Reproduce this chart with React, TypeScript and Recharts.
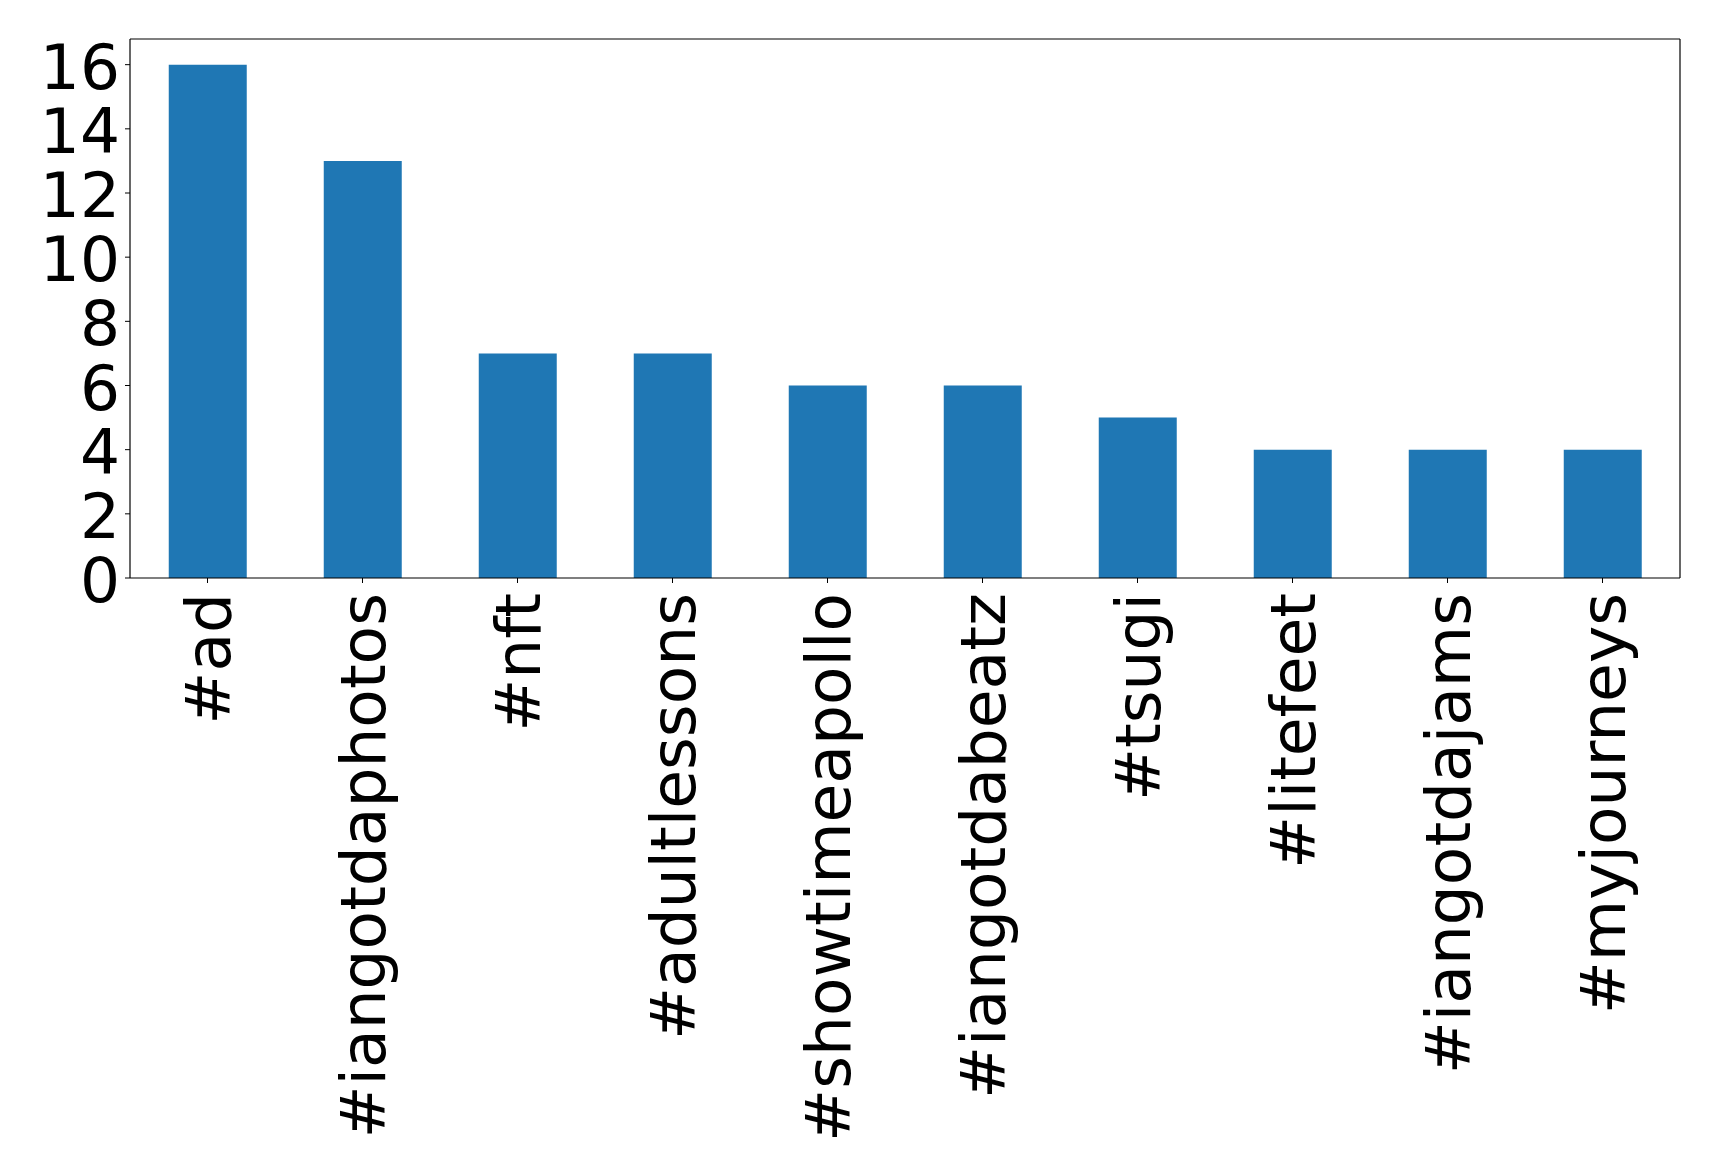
import { BarChart, Bar, XAxis, YAxis } from "recharts";

const TAGS = [
  "#ad", "#iangotdaphotos", "#nft", "#adultlessons", "#showtimeapollo",
  "#iangotdabeatz", "#tsugi", "#litefeet", "#iangotdajams", "#myjourneys",
];
const COUNTS = [16, 13, 7, 7, 6, 6, 5, 4, 4, 4];
const Y_TICKS = [0, 2, 4, 6, 8, 10, 12, 14, 16];

const FONT = "'DejaVu Sans', sans-serif";
const data = TAGS.map((tag, i) => ({ tag, count: COUNTS[i] }));

function TagTick({ x, y, payload }: any) {
  return (
    <g transform={`translate(${x},${y}) rotate(-90)`}>
      <text x={0} y={0} dy={22} textAnchor="end" fontSize={63} fontFamily={FONT} fill="#000">
        {payload.value}
      </text>
    </g>
  );
}

function CountTick({ x, y, payload }: any) {
  return (
    <text x={x} y={y} dy={24} textAnchor="end" fontSize={63} fontFamily={FONT} fill="#000">
      {payload.value}
    </text>
  );
}

const spine = { stroke: "#000", strokeWidth: 1.2 };

export default function App() {
  return (
    <div style={{ width: 1719, height: 1172, background: "#fff" }}>
      <style>{`body{margin:0}`}</style>
      <BarChart width={1719} height={1172} data={data}
        margin={{ top: 38, right: 38, bottom: 0, left: 0 }} barCategoryGap="25%">
        <XAxis dataKey="tag" interval={0} height={594} tick={<TagTick />}
          tickSize={5} tickMargin={10} axisLine={spine} tickLine={{ stroke: "#000" }} />
        <XAxis xAxisId="top" orientation="top" dataKey="tag" height={1} tick={false}
          tickLine={false} axisLine={spine} />
        <YAxis width={130} domain={[0, 16.8]} ticks={Y_TICKS} tick={<CountTick />}
          tickSize={5} tickMargin={5} axisLine={spine} tickLine={{ stroke: "#000" }} />
        <YAxis yAxisId="right" orientation="right" width={1} domain={[0, 16.8]} tick={false}
          tickLine={false} axisLine={spine} />
        <Bar dataKey="count" fill="#1f77b4" isAnimationActive={false} />
      </BarChart>
    </div>
  );
}
